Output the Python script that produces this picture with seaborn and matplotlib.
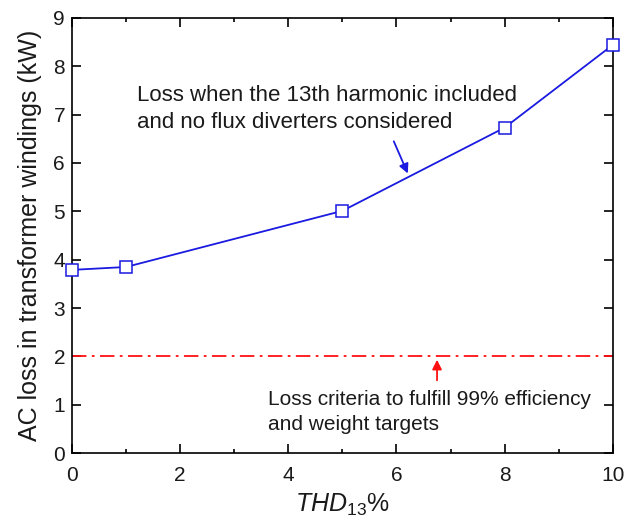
import matplotlib
matplotlib.use("Agg")
import matplotlib.pyplot as plt
import seaborn as sns
import pandas as pd
from matplotlib.ticker import MultipleLocator

# Winding AC loss vs. 13th-harmonic distortion
thd13 = [0, 1, 5, 8, 10]
loss_kw = [3.79, 3.85, 5.01, 6.73, 8.44]
loss_limit_kw = 2.0

sns.set_style("ticks")
plt.rcParams["font.family"] = ["Liberation Sans", "DejaVu Sans"]
plt.rcParams["mathtext.fontset"] = "custom"
plt.rcParams["mathtext.rm"] = "Liberation Sans"
plt.rcParams["mathtext.it"] = "Liberation Sans:italic"

df = pd.DataFrame({"thd": thd13, "loss": loss_kw})

fig, ax = plt.subplots(figsize=(6.37, 5.24), dpi=100)
fig.subplots_adjust(left=0.113, right=0.962, top=0.966, bottom=0.135)

sns.lineplot(data=df, x="thd", y="loss", ax=ax, color="#1a1ae0", linewidth=1.3,
             marker="s", markersize=8.5, markerfacecolor="white",
             markeredgecolor="#1a1ae0", markeredgewidth=1.1, clip_on=False, zorder=3)

ax.axhline(loss_limit_kw, color="#ff1010", linestyle=(0, (8, 3, 1.5, 3)), linewidth=1.3)

ax.set_xlim(0, 10)
ax.set_ylim(0, 9)
ax.xaxis.set_major_locator(MultipleLocator(2))
ax.xaxis.set_minor_locator(MultipleLocator(1))
ax.yaxis.set_major_locator(MultipleLocator(1))
ax.tick_params(which="both", direction="in", top=True, right=True, width=1.2,
               labelsize=15, color="black", labelcolor="#1a1a1a")
ax.tick_params(which="major", length=6.5)
ax.tick_params(which="minor", length=3)
ax.tick_params(axis="y", which="major", pad=5)
ax.tick_params(axis="x", which="major", pad=9)
for s in ax.spines.values():
    s.set_linewidth(1.2)
    s.set_color("black")

ax.set_xlabel(r"$THD_{\mathrm{13}}\%$", fontsize=18, labelpad=5, color="#1a1a1a")
ax.set_ylabel("AC loss in transformer windings (kW)", fontsize=18, labelpad=8,
              color="#1a1a1a")

ax.annotate("", xy=(6.23, 5.73), xytext=(5.93, 6.5),
            arrowprops=dict(arrowstyle="-|>", color="#1a1ae0", lw=1.3,
                            mutation_scale=14))
ax.text(1.2, 7.12, "Loss when the 13th harmonic included\nand no flux diverters considered",
        fontsize=16, va="center", ha="left", linespacing=1.38, color="#1a1a1a")

ax.annotate("", xy=(6.75, 1.99), xytext=(6.75, 1.45),
            arrowprops=dict(arrowstyle="-|>", color="#ff1010", lw=1.3,
                            mutation_scale=14))
ax.text(3.62, 0.86, "Loss criteria to fulfill 99% efficiency\nand weight targets",
        fontsize=15, va="center", ha="left", linespacing=1.42, color="#1a1a1a")

fig.savefig("out.png", dpi=100)
